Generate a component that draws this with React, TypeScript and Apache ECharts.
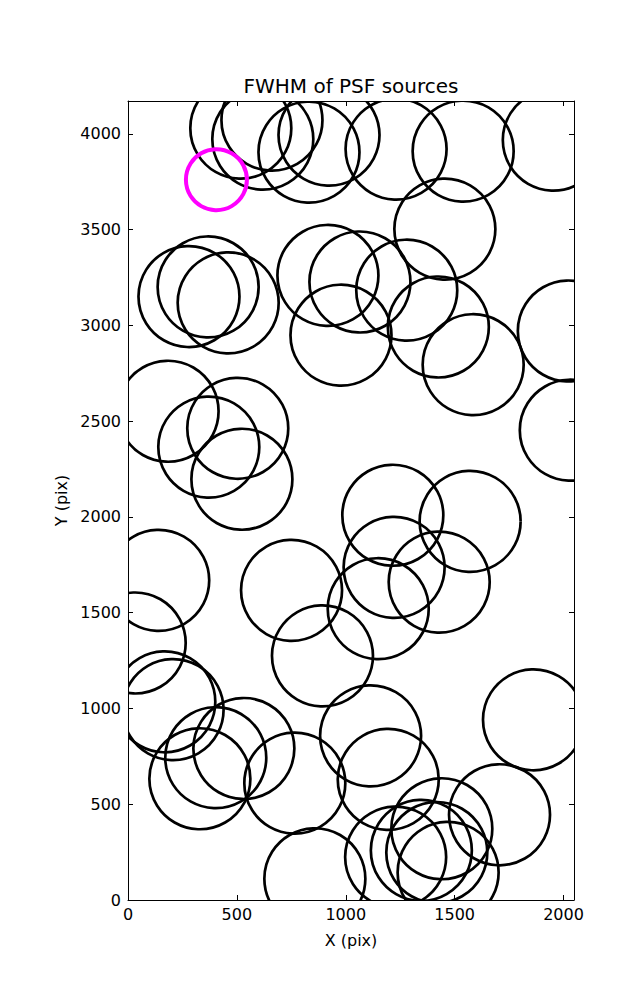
import React, { useEffect, useRef } from "react";
import * as echarts from "echarts";

// Source centres (detector pixels)
const sourceX = [518, 619, 661, 831, 923, 1231, 1539, 1953, 280, 368, 460, 918, 1065, 978, 1455, 1280, 1425, 1585, 2022, 2031, 184, 371, 504, 523, 141, 33, 751, 893, 1216, 1571, 1222, 1429, 1149, 169, 207, 330, 403, 532, 766, 858, 1114, 1195, 1229, 1862, 1706, 1441, 1347, 1418, 1470];
const sourceY = [4030, 3973, 4072, 3905, 3994, 3921, 3910, 3968, 3151, 3201, 3118, 3261, 3227, 2949, 3503, 3184, 2992, 2795, 2971, 2453, 2552, 2365, 2463, 2197, 1669, 1342, 1617, 1275, 2009, 1977, 1737, 1660, 1521, 1035, 994, 633, 743, 791, 610, 111, 857, 630, 224, 941, 445, 372, 259, 248, 144];

// Highlighted source
const highlightX = [406];
const highlightY = [3761];

const xTicks = [0, 500, 1000, 1500, 2000];
const yTicks = [0, 500, 1000, 1500, 2000, 2500, 3000, 3500, 4000];

const X_MAX = 2048;
const Y_MAX = 4172;
const TICK_STEP = 500;

const FONT = "DejaVu Sans";

export default function App() {
  const ref = useRef<HTMLDivElement>(null);

  useEffect(() => {
    if (!ref.current) return;
    const chart = echarts.init(ref.current, null, { renderer: "svg" });

    const pts = sourceX.map((x, i) => [x, sourceY[i]]);
    const hpts = highlightX.map((x, i) => [x, highlightY[i]]);

    const axisCommon = {
      type: "value",
      interval: TICK_STEP,
      min: 0,
      splitLine: { show: false },
      axisLine: { show: true, onZero: false, lineStyle: { color: "#000", width: 1 } },
      axisTick: { show: true, inside: true, length: 5, lineStyle: { color: "#000", width: 1 } },
    };

    const circleRenderer = (r: number, color: string, lw: number) => (params: any, api: any) => {
      const p = api.coord([api.value(0), api.value(1)]);
      return {
        type: "circle",
        shape: { cx: p[0], cy: p[1], r },
        style: { fill: "none", stroke: color, lineWidth: lw },
      };
    };

    chart.setOption({
      animation: false,
      backgroundColor: "#fff",
      textStyle: { fontFamily: FONT },
      grid: {
        left: 128,
        top: 101,
        width: 446,
        height: 799,
        containLabel: false,
        outerBoundsMode: "none",
      },
      xAxis: [
        {
          ...axisCommon,
          max: X_MAX,
          position: "bottom",
          name: "X (pix)",
          nameLocation: "middle",
          nameGap: 32,
          nameTextStyle: { fontSize: 16, color: "#000", fontFamily: FONT },
          axisLabel: {
            show: true,
            fontSize: 16,
            color: "#000",
            fontFamily: FONT,
            margin: 6,
            showMaxLabel: false,
            formatter: (v: number) => (xTicks.indexOf(v) >= 0 ? String(v) : ""),
          },
        },
        {
          ...axisCommon,
          max: X_MAX,
          position: "top",
          axisLabel: { show: false },
        },
      ],
      yAxis: [
        {
          ...axisCommon,
          max: Y_MAX,
          position: "left",
          name: "Y (pix)",
          nameLocation: "middle",
          nameGap: 56,
          nameRotate: 90,
          nameTextStyle: { fontSize: 16, color: "#000", fontFamily: FONT },
          axisLabel: {
            show: true,
            fontSize: 16,
            color: "#000",
            fontFamily: FONT,
            margin: 7,
            showMaxLabel: false,
            formatter: (v: number) => (yTicks.indexOf(v) >= 0 ? String(v) : ""),
          },
        },
        {
          ...axisCommon,
          max: Y_MAX,
          position: "right",
          axisLabel: { show: false },
        },
      ],
      graphic: [
        {
          type: "text",
          x: 351,
          y: 86,
          style: {
            text: "FWHM of PSF sources",
            fontSize: 20,
            fontFamily: FONT,
            fill: "#000",
            align: "center",
            verticalAlign: "middle",
          },
        },
      ],
      series: [
        {
          type: "custom",
          xAxisIndex: 0,
          yAxisIndex: 0,
          clip: true,
          z: 2,
          encode: { x: 0, y: 1 },
          data: pts,
          renderItem: circleRenderer(50.5, "#000", 2.7),
        },
        {
          type: "custom",
          xAxisIndex: 0,
          yAxisIndex: 0,
          clip: true,
          z: 3,
          encode: { x: 0, y: 1 },
          data: hpts,
          renderItem: circleRenderer(30.5, "#ff00ff", 4),
        },
      ],
    });

    return () => chart.dispose();
  }, []);

  return (
    <div
      ref={ref}
      style={{ position: "absolute", left: 0, top: 0, width: 637, height: 1000, background: "#fff" }}
    />
  );
}
